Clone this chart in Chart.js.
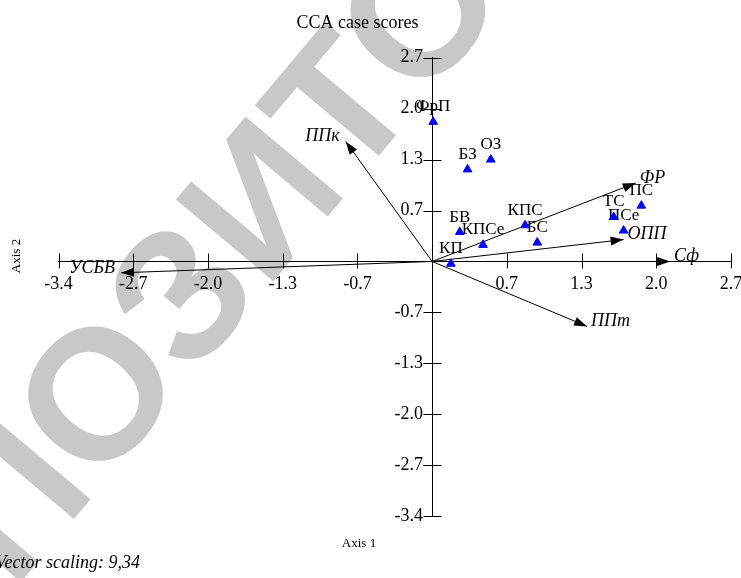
<!DOCTYPE html>
<html>
<head>
<meta charset="utf-8">
<script src="https://cdn.jsdelivr.net/npm/chart.js@4.4.0/dist/chart.umd.min.js"></script>
<style>
  html, body { margin: 0; padding: 0; background: #fff; }
  #wrap { width: 741px; height: 578px; }
</style>
</head>
<body>
<div id="wrap"><canvas id="ccaChart" width="741" height="578"></canvas></div>
<script>
// site (case) scores on the first two CCA axes
const siteNames = ["ФрП", "БЗ", "ОЗ", "БВ", "КПСе", "КПС", "БС", "КП", "ТС", "ПСе", "ПС"];
const siteAxis1 = [0.01, 0.32, 0.53, 0.25, 0.46, 0.84, 0.95, 0.17, 1.64, 1.73, 1.89];
const siteAxis2 = [1.85, 1.22, 1.35, 0.39, 0.22, 0.48, 0.25, -0.03, 0.59, 0.41, 0.74];

// environmental vectors (tips, already scaled)
const vectorNames = ["ППк", "УСБВ", "ФР", "ОПП", "Сф", "ППт"];
const vectorAxis1 = [-0.78, -2.81, 1.84, 1.73, 2.15, 1.40];
const vectorAxis2 = [1.59, -0.15, 1.04, 0.29, 0.00, -0.86];

// ticks are the same on both axes
const tickValues = [-3.375, -2.7, -2.025, -1.35, -0.675, 0, 0.675, 1.35, 2.025, 2.7];
const tickLabels = ["-3.4", "-2.7", "-2.0", "-1.3", "-0.7", "", "0.7", "1.3", "2.0", "2.7"];

const SERIF = "'Liberation Serif', 'Times New Roman', serif";

const datasets = [{
  label: "sites",
  data: siteAxis1.map((x, i) => ({ x: x, y: siteAxis2[i] })),
  pointStyle: "triangle",
  pointRadius: 5,
  pointHoverRadius: 5,
  backgroundColor: "#0000ff",
  borderColor: "#0000ee",
  borderWidth: 1
}];
vectorNames.forEach((name, i) => {
  datasets.push({
    label: name,
    data: [{ x: 0, y: 0 }, { x: vectorAxis1[i], y: vectorAxis2[i] }],
    showLine: true,
    pointRadius: 0,
    borderColor: "#000",
    borderWidth: 1
  });
});

// grey repository stamp behind the plot
const watermark = {
  id: "watermark",
  beforeDraw(chart) {
    const ctx = chart.ctx;
    const size = 185;
    ctx.save();
    ctx.font = "bold " + size + "px 'Liberation Sans', Arial, sans-serif";
    ctx.fillStyle = "#c8c8c8";
    const pre = ctx.measureText("РЕП").width;
    const oW = ctx.measureText("О").width;
    ctx.translate(94, 392);
    ctx.rotate(-50 * Math.PI / 180);
    ctx.fillText("РЕПОЗИТОРИЙ", -(pre + oW / 2), 0.358 * size);
    ctx.restore();
  }
};

// tick marks crossing the axes
const crossTicks = {
  id: "crossTicks",
  afterDraw(chart) {
    const { ctx, scales: { x, y } } = chart;
    const x0 = Math.round(x.getPixelForValue(0)) + 0.5;
    const y0 = Math.round(y.getPixelForValue(0)) + 0.5;
    ctx.save();
    ctx.strokeStyle = "#000";
    ctx.lineWidth = 1;
    ctx.beginPath();
    tickValues.forEach(v => {
      if (v === 0) return;
      const px = Math.round(x.getPixelForValue(v)) + 0.5;
      ctx.moveTo(px, y0 - 8);
      ctx.lineTo(px, y0 + 7);
      const py = Math.round(y.getPixelForValue(v)) + 0.5;
      ctx.moveTo(x0 - 9, py);
      ctx.lineTo(x0 + 9, py);
    });
    ctx.stroke();
    ctx.restore();
  }
};

// site labels under the marks, arrow heads and vector names on top
const labels = {
  id: "labels",
  beforeDatasetsDraw(chart) {
    const ctx = chart.ctx;
    const meta = chart.getDatasetMeta(0);
    ctx.save();
    ctx.font = "17px " + SERIF;
    ctx.fillStyle = "#000";
    ctx.textAlign = "center";
    ctx.textBaseline = "alphabetic";
    meta.data.forEach((pt, i) => {
      ctx.fillText(siteNames[i], pt.x, pt.y - 10.5);
    });
    ctx.restore();
  },
  afterDatasetsDraw(chart) {
    const ctx = chart.ctx;
    ctx.save();
    ctx.fillStyle = "#000";
    vectorNames.forEach((name, i) => {
      const meta = chart.getDatasetMeta(i + 1);
      const a = meta.data[0], b = meta.data[1];
      const ang = Math.atan2(b.y - a.y, b.x - a.x);
      const len = 13, half = 4.5;
      const bx = b.x - len * Math.cos(ang), by = b.y - len * Math.sin(ang);
      ctx.beginPath();
      ctx.moveTo(b.x, b.y);
      ctx.lineTo(bx + half * Math.sin(ang), by - half * Math.cos(ang));
      ctx.lineTo(bx - half * Math.sin(ang), by + half * Math.cos(ang));
      ctx.closePath();
      ctx.fill();

      ctx.font = "italic 18px " + SERIF;
      ctx.textBaseline = "middle";
      if (b.x >= a.x) {
        ctx.textAlign = "left";
        ctx.fillText(name, b.x + 4, b.y - 5);
      } else {
        ctx.textAlign = "right";
        ctx.fillText(name, b.x - 6, b.y - 5);
      }
    });
    ctx.restore();
  },
  afterDraw(chart) {
    const ctx = chart.ctx;
    ctx.save();
    ctx.fillStyle = "#000";
    ctx.textBaseline = "alphabetic";
    ctx.textAlign = "center";
    ctx.font = "18px " + SERIF;
    ctx.fillText("CCA case scores", 357.5, 28);
    ctx.font = "13px " + SERIF;
    ctx.fillText("Axis 1", 359, 546.5);
    ctx.save();
    ctx.translate(20, 256);
    ctx.rotate(-Math.PI / 2);
    ctx.fillText("Axis 2", 0, 0);
    ctx.restore();
    ctx.font = "italic 18px " + SERIF;
    ctx.textAlign = "right";
    ctx.fillText("Vector scaling: 9,34", 140, 568);
    ctx.restore();
  }
};

function axisOptions(cross, vertical) {
  return {
    type: "linear",
    min: -3.375,
    max: 2.7,
    position: cross,
    afterBuildTicks: s => { s.ticks = tickValues.map(v => ({ value: v })); },
    afterFit: s => {
      if (s.isHorizontal()) s.height = 0; else s.width = 0;
      s.paddingLeft = 0; s.paddingRight = 0; s.paddingTop = 0; s.paddingBottom = 0;
    },
    grid: { display: false, drawOnChartArea: false, drawTicks: false },
    border: { display: true, color: "#000", width: 1 },
    ticks: {
      // vertical labels sit flush on the axis, so pad them with two spaces
      callback: (v, i) => tickLabels[i] ? tickLabels[i] + (vertical ? "  " : "") : "",
      color: "#000",
      font: { family: SERIF, size: 18 },
      padding: 12,
      maxRotation: 0,
      autoSkip: false
    }
  };
}

new Chart(document.getElementById("ccaChart").getContext("2d"), {
  type: "scatter",
  data: { datasets: datasets },
  options: {
    responsive: false,
    devicePixelRatio: 1,
    animation: false,
    layout: { padding: { left: 58.5, right: 10, top: 57.7, bottom: 61.8 } },
    plugins: { legend: { display: false }, title: { display: false }, tooltip: { enabled: false } },
    scales: {
      x: axisOptions({ y: 0 }, false),
      y: axisOptions({ x: 0 }, true)
    }
  },
  plugins: [watermark, crossTicks, labels]
});
</script>
</body>
</html>
